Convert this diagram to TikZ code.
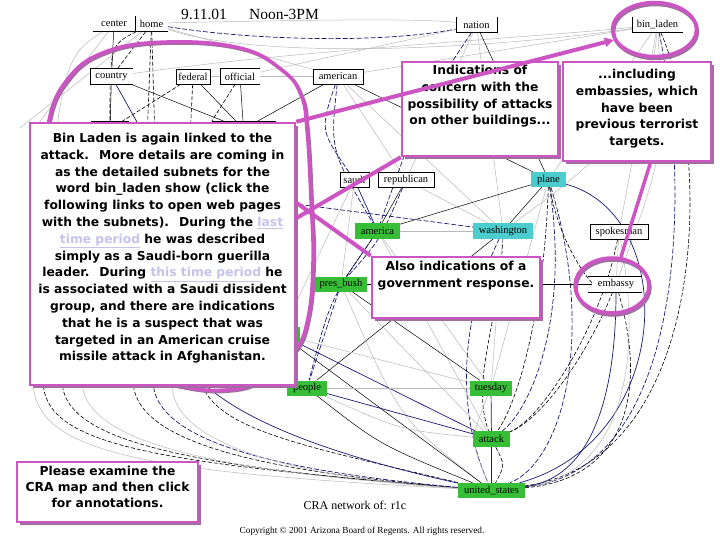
\documentclass[tikz,border=0pt]{standalone}
\usepackage{fontspec}
\setmainfont{Liberation Serif}
\newfontfamily\annfont{DejaVu Sans}
\usetikzlibrary{shadows,shapes.geometric,arrows.meta}
\definecolor{magA}{RGB}{205,85,195}
\definecolor{shadowC}{RGB}{160,110,160}
\definecolor{navyC}{RGB}{25,25,115}
\definecolor{grayC}{RGB}{185,185,185}
\definecolor{linkC}{RGB}{195,195,235}
\definecolor{greenC}{RGB}{55,190,55}
\definecolor{cyanC}{RGB}{75,205,205}
\newcommand\lblf{\fontsize{10.5}{12}\selectfont}
\newcommand\annf{\annfont\bfseries\fontsize{12.3}{16.8}\selectfont}
\newcommand\lnk[1]{\textcolor{linkC}{\underline{#1}}}
\begin{document}
\begin{tikzpicture}[x=1pt,y=-1pt,
  lbl/.style={inner sep=0pt, minimum height=15pt, font=\lblf, fill=white},
  wbox/.style={lbl, draw=black, line width=0.6pt},
  gbox/.style={lbl, fill=greenC},
  cbox/.style={lbl, fill=cyanC},
  gl/.style={draw=grayC, line width=0.5pt},
  bs/.style={draw=black, line width=0.5pt},
  ns/.style={draw=navyC, line width=0.7pt},
  bd/.style={draw=black, line width=0.6pt, dash pattern=on 4pt off 2pt},
  nd/.style={draw=navyC, line width=0.7pt, dash pattern=on 5pt off 2pt},
  annbox/.style={draw=magA, line width=2.5pt, fill=white, inner sep=0pt,
     drop shadow={shadow xshift=3pt, shadow yshift=-3pt, fill=shadowC, opacity=1}},
  anntext/.style={font=\annf, align=center, inner sep=0pt, anchor=north},
  magline/.style={draw=magA, line width=4pt},
  magell/.style={ellipse, draw=magA, line width=3.5pt, inner sep=0pt}
]
\fill[white] (0,0) rectangle (720,540);
\useasboundingbox (0,0) rectangle (720,540);

% ---------- title ----------
\node[font=\fontsize{15.5}{17}\selectfont, inner sep=0pt] (t1) at (204,14) {9.11.01};
\node[font=\fontsize{15.5}{17}\selectfont, inner sep=0pt] (t2) at (284,14) {Noon-3PM};

% ---------- free ends ----------
\coordinate (ll1) at (43,380);
\coordinate (ll2) at (62,380);
\coordinate (ll3) at (82,380);
\coordinate (ll4) at (33,380);
\coordinate (ll5) at (133,380);
\coordinate (ll6) at (153,380);
\coordinate (ll7) at (200,380);
\coordinate (ll8) at (173,380);
\coordinate (lw) at (250,198);
\coordinate (hv1) at (147,140);
\coordinate (hv2) at (155,140);
\coordinate (hv3) at (190,140);
\coordinate (tl1) at (20,128);
\coordinate (tl2) at (35,128);

% ---------- nodes (placed first for anchors) ----------
\node[lbl, minimum width=42pt] (center) at (114,24) {center};
\node[lbl, minimum width=33pt] (home) at (151.5,24) {home};
\node[lbl, minimum width=43pt] (country) at (111.5,76.5) {country};
\node[wbox, minimum width=34pt] (federal) at (193,76.5) {federal};
\node[lbl, minimum width=40pt] (official) at (240,76.5) {official};
\node[wbox, minimum width=50pt] (american) at (338,76.5) {american};
\node[lbl, minimum width=41pt] (nuc) at (476.5,25) {nation};
\node[lbl, minimum width=51pt] (binladen) at (657.5,25) {bin\_laden};
\node[wbox, minimum width=37pt] (hiddenA) at (110,129) {};
\node[wbox, minimum width=63pt] (hiddenB) at (243.5,129) {};
\node[wbox, minimum width=29pt] (saudi) at (354.5,180) {saudi};
\node[wbox, minimum width=56pt] (republican) at (406,180) {republican};
\node[cbox, minimum width=35pt] (plane) at (548.5,179.5) {plane};
\node[gbox, minimum width=45pt] (america) at (377.5,231) {america};
\node[cbox, minimum width=60pt] (washington) at (503,231) {washington};
\node[wbox, minimum width=58pt] (spokesman) at (619,232) {spokesman};
\node[gbox, minimum width=52pt] (presbush) at (341,284) {pres\_bush};
\node[lbl, minimum width=48pt, minimum height=16pt] (embassy) at (616,284) {embassy};
\node[gbox, minimum width=38pt] (hiddenG) at (281,334.5) {};
\node[gbox, minimum width=40pt] (people) at (307,388) {people};
\node[gbox, minimum width=42pt] (tuesday) at (491,388) {tuesday};
\node[gbox, minimum width=37pt, minimum height=16pt] (attack) at (491.5,439) {attack};
\node[gbox, minimum width=67pt] (unitedstates) at (491.5,490.5) {united\_states};

% ---------- connectors ----------
\begin{scope}
% lower-left sweeping curves
\draw[bd] (ll1) .. controls (43,445) and (150,462) .. (unitedstates);
\draw[bd] (ll2) .. controls (62,440) and (180,466) .. (unitedstates);
\draw[gl] (ll3) .. controls (82,440) and (200,470) .. (unitedstates);
\draw[gl] (ll4) .. controls (33,455) and (150,472) .. (unitedstates);
\draw[bd] (ll5) .. controls (133,440) and (250,470) .. (unitedstates);
\draw[nd] (ll6) .. controls (153,440) and (270,470) .. (unitedstates);
\draw[gl] (ll8) .. controls (165,430) and (250,474) .. (unitedstates);
\draw[bd] (ll7) .. controls (215,430) and (300,445) .. (unitedstates);
\draw[ns] (ll7) .. controls (240,420) and (330,455) .. (unitedstates);
% top area
\draw[bs] (center) -- (country);
\draw[bd] (home) -- (country);
\draw[bd] (home) -- (hv1);
\draw[bd] (home) -- (hv2);
\draw[bd] (home) .. controls (110,45) .. (hiddenA);
\draw[gl] (tl1) -- (home);
\draw[gl] (tl2) -- (center);
\draw[gl] (center) .. controls (60,60) .. (ll4);
\draw[gl] (home) .. controls (260,60) and (480,50) .. (binladen);
\draw[gl] (home) -- (american);
\draw[gl] (center) .. controls (300,20) and (420,18) .. (nuc);
\draw[nd] (home) .. controls (250,40) and (380,44) .. (nuc);
\draw[gl] (country) .. controls (300,50) and (500,40) .. (binladen);
\draw[gl] (american) -- (binladen);
\draw[gl] (official) -- (nuc);
\draw[bs] (country) -- (hiddenA);
\draw[ns] (country) -- (hv1);
\draw[bs] (country) -- (hiddenB);
\draw[bd] (federal) -- (hiddenA);
\draw[bd] (federal) -- (hv3);
\draw[bs] (federal) -- (hiddenB);
\draw[bd] (official) -- (hiddenB.north west);
\draw[bs] (official) -- (hiddenB);
\draw[gl] (official) -- (american);
\draw[gl] (federal) -- (american);
\draw[bs] (american) -- (hiddenB);
\draw[nd] (american) .. controls (320,130) .. (saudi);
\draw[nd] (american) .. controls (330,150) .. (america);
\draw[bs] (american) -- (plane);
\draw[gl] (american) -- (republican);
\draw[gl] (american) -- (washington);
\draw[bs] (nuc) -- (plane);
\draw[gl] (nuc) -- (washington);
\draw[gl] (nuc) -- (republican);
\draw[nd] (nuc) .. controls (420,110) .. (america);
\draw[gl] (binladen) -- (plane);
\draw[gl] (binladen) -- (spokesman);
\draw[gl] (binladen) .. controls (665,150) .. (embassy);
\draw[bd] (binladen) .. controls (712,150) and (712,460) .. (unitedstates);
\draw[nd] (binladen) .. controls (690,180) and (690,470) .. (unitedstates);
\draw[gl] (binladen) .. controls (650,120) and (600,160) .. (washington);
% middle
\draw[ns] (saudi) -- (america);
\draw[gl] (saudi) -- (presbush);
\draw[gl] (saudi) -- (hiddenG);
\draw[bs] (republican) -- (america);
\draw[gl] (republican) -- (washington);
\draw[nd] (republican) .. controls (380,240) .. (presbush);
\draw[bs] (plane) -- (washington);
\draw[bs] (plane) -- (america);
\draw[ns] (plane) .. controls (680,215) and (675,440) .. (unitedstates);
\draw[bd] (plane) .. controls (545,300) and (520,400) .. (attack);
\draw[nd] (plane) .. controls (570,320) and (530,410) .. (attack);
\draw[nd] (plane) .. controls (595,330) and (565,460) .. (unitedstates);
\draw[bd] (plane) .. controls (560,250) and (600,300) .. (embassy);
\draw[gl] (plane) -- (tuesday);
\draw[nd] (lw) -- (washington);
\draw[gl] (america) -- (washington);
\draw[bs] (america) -- (presbush);
\draw[nd] (america) .. controls (330,300) .. (people);
\draw[gl] (america) -- (tuesday);
\draw[gl] (america) -- (attack);
\draw[bd] (washington) .. controls (500,320) and (470,380) .. (attack);
\draw[gl] (washington) -- (tuesday);
\draw[bs] (washington) -- (people);
\draw[nd] (washington) .. controls (455,330) and (460,420) .. (unitedstates);
\draw[bd] (spokesman) .. controls (600,330) and (540,420) .. (attack);
\draw[gl] (spokesman) -- (embassy);
\draw[gl] (spokesman) .. controls (650,400) and (600,480) .. (unitedstates);
\draw[bs] (embassy) -- (presbush);
\draw[ns] (embassy) .. controls (616,420) and (580,480) .. (unitedstates);
\draw[bd] (embassy) .. controls (585,360) and (540,420) .. (attack);
\draw[bd] (embassy) .. controls (650,400) and (620,480) .. (unitedstates);
\draw[bs] (presbush) -- (tuesday);
\draw[gl] (presbush) -- (attack);
\draw[nd] (presbush) -- (people);
\draw[gl] (presbush) .. controls (400,420) .. (unitedstates);
\draw[ns] (hiddenG) -- (attack);
\draw[gl] (hiddenG) -- (tuesday);
\draw[bs] (hiddenG) -- (unitedstates);
% bottom
\draw[ns] (people) -- (attack);
\draw[bs] (people) .. controls (380,445) .. (unitedstates);
\draw[gl] (people) -- (tuesday);
\draw[gl] (people) .. controls (400,430) .. (attack);
\draw[ns] (tuesday) -- (attack);
\draw[ns] (attack) -- (unitedstates);
\draw[gl] (tuesday) .. controls (470,440) .. (unitedstates);
\draw[bd] (attack) .. controls (505,465) .. (unitedstates);
\end{scope}

% ---------- nodes again on top of edges ----------
\node[lbl, minimum width=42pt] at (center) {center};
\node[lbl, minimum width=33pt] at (home) {home};
\node[lbl, minimum width=43pt] at (country) {country};
\node[wbox, minimum width=34pt] at (federal) {federal};
\node[lbl, minimum width=40pt] at (official) {official};
\node[wbox, minimum width=50pt] at (american) {american};
\node[lbl, minimum width=41pt] at (nuc) {nation};
\node[lbl, minimum width=51pt] at (binladen) {bin\_laden};
\node[wbox, minimum width=37pt] at (hiddenA) {};
\node[wbox, minimum width=63pt] at (hiddenB) {};
\node[wbox, minimum width=29pt] at (saudi) {saudi};
\node[wbox, minimum width=56pt] at (republican) {republican};
\node[cbox, minimum width=35pt] at (plane) {plane};
\node[gbox, minimum width=45pt] at (america) {america};
\node[cbox, minimum width=60pt] at (washington) {washington};
\node[wbox, minimum width=58pt] at (spokesman) {spokesman};
\node[gbox, minimum width=52pt] at (presbush) {pres\_bush};
\node[lbl, minimum width=48pt, minimum height=16pt] at (embassy) {embassy};
\node[gbox, minimum width=38pt] at (hiddenG) {};
\node[gbox, minimum width=40pt] at (people) {people};
\node[gbox, minimum width=42pt] at (tuesday) {tuesday};
\node[gbox, minimum width=37pt, minimum height=16pt] at (attack) {attack};
\node[gbox, minimum width=67pt] at (unitedstates) {united\_states};
% partial borders
\draw[line width=0.6pt] (center.south west) -- (home.south east);
\draw[line width=0.6pt] (home.north west) -- (home.south west);
\draw[line width=0.6pt] (country.north east) -- (country.north west) -- (country.south west) -- (country.south east);
\draw[line width=0.6pt] (official.north east) -- (official.north west) -- (official.south west) -- (official.south east);
\draw[line width=0.6pt] (nuc.north west) -- (nuc.south west) -- (nuc.south east) -- (nuc.north east);
\draw[line width=0.6pt] (binladen.north west) -- (binladen.south west) -- (binladen.south east);
\draw[line width=0.6pt] ([xshift=-4pt]embassy.north west) -- ([xshift=2pt]embassy.north east);
\draw[line width=0.6pt] ([xshift=-4pt]embassy.south west) -- ([xshift=2pt]embassy.south east);

% ---------- captions ----------
\node[font=\fontsize{12}{14}\selectfont, inner sep=0pt] (cra) at (355,505) {CRA network of: r1c};
\node[font=\fontsize{9.3}{11}\selectfont, inner sep=0pt] (copy) at (362,531) {Copyright \textcopyright{} 2001 Arizona Board of Regents. All rights reserved.};

% ---------- magenta ellipses ----------
\draw[shadowC, line width=3pt, xshift=1.5pt, yshift=-1.5pt] plot[smooth cycle, tension=0.7] coordinates {(48,125) (67,80) (105,52) (167,42) (240,48) (282,70) (301,95) (307,130) (311,200) (313,262) (308,318) (294,352) (262,380) (225,390) (180,386) (120,370) (75,335) (50,290) (42,200)};
\draw[magA, line width=3.5pt] plot[smooth cycle, tension=0.7] coordinates {(48,125) (67,80) (105,52) (167,42) (240,48) (282,70) (301,95) (307,130) (311,200) (313,262) (308,318) (294,352) (262,380) (225,390) (180,386) (120,370) (75,335) (50,290) (42,200)};
\node[magell, draw=shadowC, minimum width=84pt, minimum height=54pt] (blshadow) at (655.5,31.5) {};
\node[magell, minimum width=84pt, minimum height=54pt] (blell) at (654.5,29.5) {};
\node[magell, draw=shadowC, minimum width=74pt, minimum height=55pt] (emshadow) at (613,287.5) {};
\node[magell, minimum width=74pt, minimum height=55pt] (emell) at (612,285.5) {};

% ---------- annotation boxes ----------
\node[annbox, minimum width=265pt, minimum height=262pt] (bigbox) at (162.5,254) {};
\node[anntext] (bigtext) at (162.5,133) {Bin Laden is again linked to the\\
attack.~ More details are coming in\\
as the detailed subnets for the\\
word bin\_laden show (click the\\
following links to open web pages\\
with the subnets).~ During the \lnk{last}\\
\lnk{time period} he was described\\
simply as a Saudi-born guerilla\\
leader.~ During \lnk{this time period} he\\
is associated with a Saudi dissident\\
group, and there are indications\\
that he is a suspect that was\\
targeted in an American cruise\\
missile attack in Afghanistan.};

\node[annbox, minimum width=156pt, minimum height=94pt] (indic) at (480,109) {};
\node[anntext] (indictext) at (480,65) {Indications of\\concern with the\\possibility of attacks\\on other buildings...};

\node[annbox, minimum width=148pt, minimum height=99pt] (incl) at (637,111.5) {};
\node[anntext] (incltext) at (637,69) {...including\\embassies, which\\have been\\previous terrorist\\targets.};

\node[annbox, minimum width=168pt, minimum height=61pt] (alsob) at (456,287.5) {};
\node[anntext] (alsotext) at (456,261) {Also indications of a\\government response.};

\node[annbox, minimum width=181pt, minimum height=60pt] (please) at (107.5,492) {};
\node[anntext, font=\annfont\bfseries\fontsize{12.3}{16}\selectfont] (pleasetext) at (107.5,466) {Please examine the\\CRA map and then click\\for annotations.};

% ---------- magenta connectors ----------
\draw[magline, -{Triangle[length=9pt,width=9pt]}] (bigbox.north east) -- (blell);
\draw[magline] (bigbox.15) -- (indic.south west);
\draw[magline] (bigbox.21) -- (alsob.north west);
\draw[magline, line width=3.5pt] (incl.285) -- (emell);
\end{tikzpicture}
\end{document}
